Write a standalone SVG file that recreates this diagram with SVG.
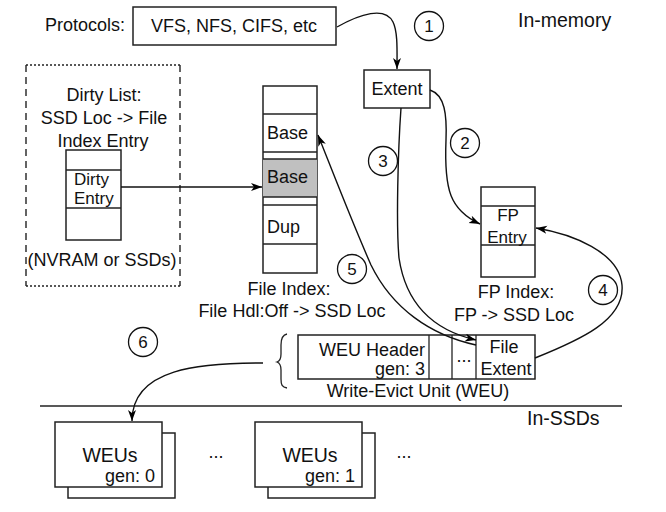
<svg xmlns="http://www.w3.org/2000/svg" width="666" height="512" viewBox="0 0 666 512">
<defs>
<marker id="ah" markerUnits="userSpaceOnUse" markerWidth="12" markerHeight="10" refX="11" refY="4" orient="auto">
<path d="M0,0 L11,4 L0,8 L3,4 z" fill="#000"/>
</marker>
<style>
text{font-family:"Liberation Sans",Arial,sans-serif;font-size:18px;fill:#111}
.c{text-anchor:middle}
.r{text-anchor:end}
.big{font-size:19.5px}
.sm{font-size:17px}
.box{fill:#fff;stroke:#222;stroke-width:1.5}
.ln{fill:none;stroke:#222;stroke-width:1.3}
.cir{fill:#fff;stroke:#111;stroke-width:1.3}
.con{fill:none;stroke:#111;stroke-width:1.4}
</style>
</defs>
<rect width="666" height="512" fill="#fff"/>

<g id="labels">
<text x="45" y="31">Protocols:</text>
<text x="518" y="27" class="big">In-memory</text>
<text x="527" y="425" class="big">In-SSDs</text>
</g>

<g id="protocols">
<rect x="133" y="7" width="203" height="38" class="box"/>
<text x="234" y="32" class="c">VFS, NFS, CIFS, etc</text>
</g>

<g id="extent">
<rect x="364" y="70" width="66" height="38" class="box"/>
<text x="397" y="95" class="c">Extent</text>
</g>

<g id="dirty-list">
<line x1="26" y1="65" x2="180" y2="65" stroke="#222" stroke-width="1.6" stroke-dasharray="2,2"/>
<line x1="26" y1="286" x2="180" y2="286" stroke="#222" stroke-width="1.6" stroke-dasharray="2,2"/>
<line x1="26" y1="65" x2="26" y2="286" stroke="#222" stroke-width="1.4" stroke-dasharray="7,5"/>
<line x1="180" y1="65" x2="180" y2="286" stroke="#222" stroke-width="1.4" stroke-dasharray="7,5"/>
<text x="104" y="101" class="c">Dirty List:</text>
<text x="104" y="124" class="c">SSD Loc -&gt; File</text>
<text x="103" y="147" class="c">Index Entry</text>
<rect x="66" y="150" width="55" height="90" class="box"/>
<line x1="66" y1="170" x2="121" y2="170" class="ln"/>
<line x1="66" y1="208" x2="121" y2="208" class="ln"/>
<text x="74" y="185" class="sm">Dirty</text>
<text x="74" y="204" class="sm">Entry</text>
<text x="102" y="266" class="c">(NVRAM or SSDs)</text>
</g>

<g id="file-index">
<rect x="263" y="86" width="54" height="187" class="box"/>
<rect x="263" y="159" width="54" height="38" fill="#c0c0c0"/>
<line x1="263" y1="114" x2="317" y2="114" class="ln"/>
<line x1="263" y1="152" x2="317" y2="152" class="ln"/>
<line x1="263" y1="159" x2="317" y2="159" class="ln"/>
<line x1="263" y1="197" x2="317" y2="197" class="ln"/>
<line x1="263" y1="205" x2="317" y2="205" class="ln"/>
<line x1="263" y1="244" x2="317" y2="244" class="ln"/>
<text x="267" y="139">Base</text>
<text x="267" y="183">Base</text>
<text x="267" y="233">Dup</text>
<text x="289" y="295" class="c">File Index:</text>
<text x="292" y="317" class="c">File Hdl:Off -&gt; SSD Loc</text>
</g>

<g id="fp-index">
<rect x="481" y="187" width="54" height="90" class="box"/>
<line x1="481" y1="206" x2="535" y2="206" class="ln"/>
<line x1="481" y1="245" x2="535" y2="245" class="ln"/>
<text x="508" y="221" class="c sm">FP</text>
<text x="507" y="243" class="c sm">Entry</text>
<text x="516" y="298" class="c">FP Index:</text>
<text x="514" y="321" class="c">FP -&gt; SSD Loc</text>
</g>

<g id="weu">
<rect x="298" y="335" width="237" height="44" class="box"/>
<line x1="429" y1="335" x2="429" y2="379" class="ln"/>
<line x1="452" y1="335" x2="452" y2="379" class="ln"/>
<line x1="476" y1="335" x2="476" y2="379" class="ln"/>
<text x="425" y="356" class="r" font-size="17.5">WEU Header</text>
<text x="425" y="375" class="r" font-size="17.5">gen: 3</text>
<text x="464" y="362" class="c" font-size="15">...</text>
<text x="504" y="353" class="c" font-size="17.5">File</text>
<text x="506" y="375" class="c" font-size="17.5">Extent</text>
<text x="418" y="397" class="c">Write-Evict Unit (WEU)</text>
<path d="M287,334 C282,335 281,339 281,345 L281,354 C281,359 280,361 277,362 C280,363 281,365 281,370 L281,379 C281,385 282,387 287,388" class="ln"/>
</g>

<g id="divider">
<line x1="40" y1="406" x2="622" y2="406" stroke="#222" stroke-width="1.5"/>
</g>

<g id="weus-gen0">
<rect x="68" y="433" width="107" height="65" class="box"/>
<rect x="55" y="422" width="107" height="65" class="box"/>
<text x="110" y="462" class="c big">WEUs</text>
<text x="155" y="482" class="r">gen: 0</text>
</g>
<text x="216" y="458" class="c" font-size="15">...</text>
<g id="weus-gen1">
<rect x="268" y="433" width="107" height="65" class="box"/>
<rect x="255" y="422" width="107" height="65" class="box"/>
<text x="310" y="462" class="c big">WEUs</text>
<text x="355" y="482" class="r">gen: 1</text>
</g>
<text x="404" y="458" class="c" font-size="15">...</text>

<g id="connectors">
<path d="M337,27 C360,14 385,6 393,22 C398,32 397,52 397,69" class="con" marker-end="url(#ah)"/>
<path d="M430,90 C445,95 447,115 446,140 C444,190 450,210 480,224" class="con" marker-end="url(#ah)"/>
<path d="M401,108 C398,150 396,225 399,258 C408,318 450,334 476,340" class="con" marker-end="url(#ah)"/>
<path d="M535,358 C580,340 625,320 622,285 C619,252 572,234 536,228" class="con" marker-end="url(#ah)"/>
<path d="M476,345 C430,335 392,308 371,265 C352,222 332,170 318,135" class="con" marker-end="url(#ah)"/>
<path d="M263,363 C200,363 132,368 132,421" class="con" marker-end="url(#ah)"/>
<line x1="121" y1="187" x2="262" y2="187" class="con" marker-end="url(#ah)"/>
</g>

<g id="steps">
<circle cx="429" cy="26" r="14.5" class="cir"/><text x="429" y="32" class="c sm">1</text>
<circle cx="465" cy="143" r="14.5" class="cir"/><text x="465" y="149" class="c sm">2</text>
<circle cx="383" cy="161" r="14.5" class="cir"/><text x="383" y="167" class="c sm">3</text>
<circle cx="603" cy="290" r="14.5" class="cir"/><text x="603" y="296" class="c sm">4</text>
<circle cx="352" cy="269" r="14.5" class="cir"/><text x="352" y="275" class="c sm">5</text>
<circle cx="143" cy="342" r="14.5" class="cir"/><text x="143" y="348" class="c sm">6</text>
</g>
</svg>
